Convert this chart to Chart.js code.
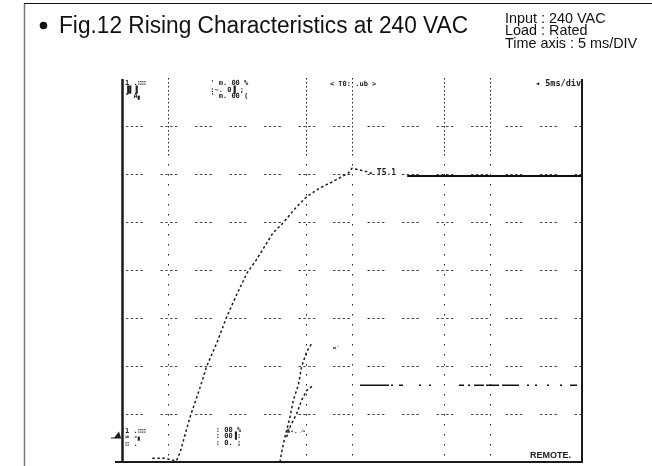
<!DOCTYPE html>
<html>
<head>
<meta charset="utf-8">
<script src="https://cdn.jsdelivr.net/npm/chart.js@4"></script>
<style>
  html, body { margin: 0; padding: 0; background: #fff; }
  #scope { position: absolute; left: 0; top: 0; }
</style>
</head>
<body>
<canvas id="scope" width="652" height="466"></canvas>
<script>
// time axis in ms (5 ms/DIV), amplitude in screen divisions
const timeTicks = [0, 5, 10, 15, 20, 25, 30, 35, 40, 45, 50];
const divTicks = [0, 1, 2, 3, 4, 5, 6, 7, 8];
const shownTimeLines = [5, 20, 25, 35, 40];

// CH1 : output voltage rising
const ch1RiseT = [3.3, 4.6, 5.9, 6.3, 7.4, 8.5, 9.2, 10.3, 11.4, 12.3, 13.6, 14.6, 16.4, 17.5, 19.0, 20.1, 21.5, 22.9, 24.6, 25.0, 26.6, 27.3];
const ch1RiseV = [0.08, 0.08, 0.02, 0.19, 0.94, 1.56, 1.99, 2.48, 3.03, 3.42, 3.94, 4.21, 4.77, 4.98, 5.32, 5.53, 5.71, 5.84, 6.02, 6.12, 6.05, 6.0];
const ch1SteadyT = [31.0, 50];
const ch1SteadyV = [5.96, 5.96];

// CH2 : lower traces
const ch2LeftT = [17.17, 17.36, 17.72, 18.26, 18.62, 19.16, 19.53, 20.08, 20.62];
const ch2LeftV = [0.0, 0.21, 0.53, 0.94, 1.29, 1.6, 1.99, 2.30, 2.47];
const ch2RightT = [17.9, 18.08, 18.99, 19.53, 20.08, 20.79];
const ch2RightV = [0.52, 0.66, 1.01, 1.29, 1.49, 1.60];
const ch2SteadyT = [25.87, 50];
const ch2SteadyV = [1.6, 1.6];

function pts(t, v) {
  return t.map((x, i) => ({ x: x, y: v[i] }));
}

// vertical graticule: dense dots near the top, sparse below
function vDash() {
  const d = [];
  for (let i = 0; i < 19; i++) d.push(1.5, 2.5);
  for (let i = 0; i < 31; i++) d.push(1.5, 8.5);
  return d;
}

const ink = '#1a1a1a';

const overlay = {
  id: 'overlay',
  afterDraw(chart) {
    const ctx = chart.ctx;
    const a = chart.chartArea;
    const sx = chart.scales.x, sy = chart.scales.y;
    ctx.save();

    // outer page frame
    ctx.strokeStyle = '#777';
    ctx.lineWidth = 1.5;
    ctx.beginPath();
    ctx.moveTo(24.5, 466);
    ctx.lineTo(24.5, 3);
    ctx.stroke();
    ctx.strokeStyle = '#111';
    ctx.lineWidth = 1;
    ctx.beginPath();
    ctx.moveTo(24, 3.5);
    ctx.lineTo(652, 3.5);
    ctx.stroke();

    // title
    ctx.fillStyle = '#111';
    ctx.beginPath();
    ctx.arc(43.5, 25.5, 3.8, 0, Math.PI * 2);
    ctx.fill();
    ctx.font = '23.5px "Liberation Sans", Arial, sans-serif';
    ctx.textBaseline = 'alphabetic';
    ctx.textAlign = 'left';
    ctx.fillText('Fig.12 Rising Characteristics at 240 VAC', 59, 33, 409);

    ctx.font = '14.4px "Liberation Sans", Arial, sans-serif';
    ctx.fillText('Input : 240 VAC', 505, 22.5);
    ctx.fillText('Load : Rated', 505, 35);
    ctx.fillText('Time axis : 5 ms/DIV', 505, 47.5, 137);

    // scope frame
    ctx.strokeStyle = ink;
    ctx.lineWidth = 2.5;
    ctx.beginPath();
    ctx.moveTo(a.left + 0.5, a.top + 1);
    ctx.lineTo(a.left + 0.5, a.bottom);
    ctx.stroke();
    ctx.lineWidth = 2;
    ctx.beginPath();
    ctx.moveTo(a.right, a.top + 1);
    ctx.lineTo(a.right, a.bottom);
    ctx.moveTo(a.left - 7, a.bottom);
    ctx.lineTo(a.right + 1, a.bottom);
    ctx.stroke();

    // ground marker
    ctx.fillStyle = ink;
    ctx.beginPath();
    ctx.moveTo(114, 438);
    ctx.lineTo(121, 438);
    ctx.lineTo(119, 431.5);
    ctx.closePath();
    ctx.fill();
    ctx.lineWidth = 1;
    ctx.beginPath();
    ctx.moveTo(111, 438);
    ctx.lineTo(121, 438);
    ctx.stroke();

    // on-screen readouts
    ctx.fillStyle = '#222';
    ctx.font = 'bold 7px "DejaVu Sans Mono", monospace';
    ctx.textBaseline = 'top';
    const block = (lines, x, y) => lines.forEach((s, i) => ctx.fillText(s, x, y + i * 6.5));
    block(['1 .\u2237\u2237', '\u2590\u258C\u2590', '\u00B0 A\u2596'], a.left + 3, a.top + 2);
    block(['1 .\u2237\u2237', '= -\u2596', '\u2237 .'], a.left + 3, sy.getPixelForValue(0.72));
    block(["' m. 00 %", ":~. 0\u2590 ;", "' m. 00 ("], sx.getPixelForValue(9.6), a.top + 2);
    block([': 00 %', ': 00\u2590:', ': 0. ;'], sx.getPixelForValue(10.2), sy.getPixelForValue(0.74));

    ctx.font = 'bold 7px "DejaVu Sans Mono", monospace';
    ctx.fillText('< T0: .ub >', sx.getPixelForValue(22.6), a.top + 3);
    ctx.textAlign = 'right';
    ctx.font = 'bold 8.5px "DejaVu Sans Mono", monospace';
    ctx.fillText('\u25C2 5ms/div', a.right - 1, a.top + 2);
    ctx.textAlign = 'left';
    ctx.font = 'bold 8px "DejaVu Sans Mono", monospace';
    ctx.fillText('T5.1', sx.getPixelForValue(27.7), sy.getPixelForValue(6.1));
    ctx.font = 'bold 6px "DejaVu Sans Mono", monospace';
    ctx.fillText('\u2248\u2032', sx.getPixelForValue(22.9), sy.getPixelForValue(2.42));
    ctx.fillText('S-. \u2044-', sx.getPixelForValue(17.9), sy.getPixelForValue(0.7));
    ctx.font = 'bold 9px "Liberation Sans Narrow", "Liberation Sans", sans-serif';
    ctx.textBaseline = 'alphabetic';
    ctx.fillText('REMOTE.', a.right - 52, a.bottom - 4, 50);
    ctx.restore();
  }
};

const ctx = document.getElementById('scope').getContext('2d');
new Chart(ctx, {
  type: 'scatter',
  data: {
    datasets: [
      { label: 'CH1', data: pts(ch1RiseT, ch1RiseV), showLine: true, borderColor: ink, borderWidth: 1.5, borderDash: [2.5, 2.5], pointRadius: 0 },
      { label: 'CH1', data: pts(ch1SteadyT, ch1SteadyV), showLine: true, borderColor: '#111', borderWidth: 2, pointRadius: 0 },
      { label: 'CH2', data: pts(ch2LeftT, ch2LeftV), showLine: true, borderColor: ink, borderWidth: 1.5, borderDash: [2.5, 2.5], pointRadius: 0 },
      { label: 'CH2', data: pts(ch2RightT, ch2RightV), showLine: true, borderColor: ink, borderWidth: 1.5, borderDash: [2.5, 2.5], pointRadius: 0 },
      { label: 'CH2', data: pts(ch2SteadyT, ch2SteadyV), showLine: true, borderColor: '#111', borderWidth: 1.5,
        borderDash: [29, 2, 2, 6, 4, 16, 2, 8, 2, 28, 5, 4, 2, 4, 10, 2, 13, 3, 17, 8, 2, 6, 2, 10, 2, 11, 2, 8, 7], pointRadius: 0 }
    ]
  },
  options: {
    responsive: false,
    animation: false,
    devicePixelRatio: 1,
    layout: { padding: { left: 122, right: 70, top: 78, bottom: 4 } },
    plugins: { legend: { display: false }, tooltip: { enabled: false } },
    scales: {
      x: {
        type: 'linear',
        min: timeTicks[0],
        max: timeTicks[timeTicks.length - 1],
        afterBuildTicks: (s) => { s.ticks = timeTicks.map(v => ({ value: v })); },
        ticks: { display: false },
        border: { display: false, dash: vDash() },
        grid: {
          drawTicks: false,
          lineWidth: 1,
          color: (c) => shownTimeLines.includes(c.tick && c.tick.value) ? '#222' : 'rgba(0,0,0,0)'
        }
      },
      y: {
        type: 'linear',
        min: divTicks[0],
        max: divTicks[divTicks.length - 1],
        afterBuildTicks: (s) => { s.ticks = divTicks.map(v => ({ value: v })); },
        ticks: { display: false },
        border: { display: false, dash: [2.5, 2.3, 2.5, 2.3, 2.5, 2.3, 2.5, 17.6], dashOffset: 30.5 },
        grid: {
          drawTicks: false,
          lineWidth: 1,
          color: (c) => {
            const v = c.tick && c.tick.value;
            return (v > divTicks[0] && v < divTicks[divTicks.length - 1]) ? '#444' : 'rgba(0,0,0,0)';
          }
        }
      }
    }
  },
  plugins: [overlay]
});
</script>
</body>
</html>
